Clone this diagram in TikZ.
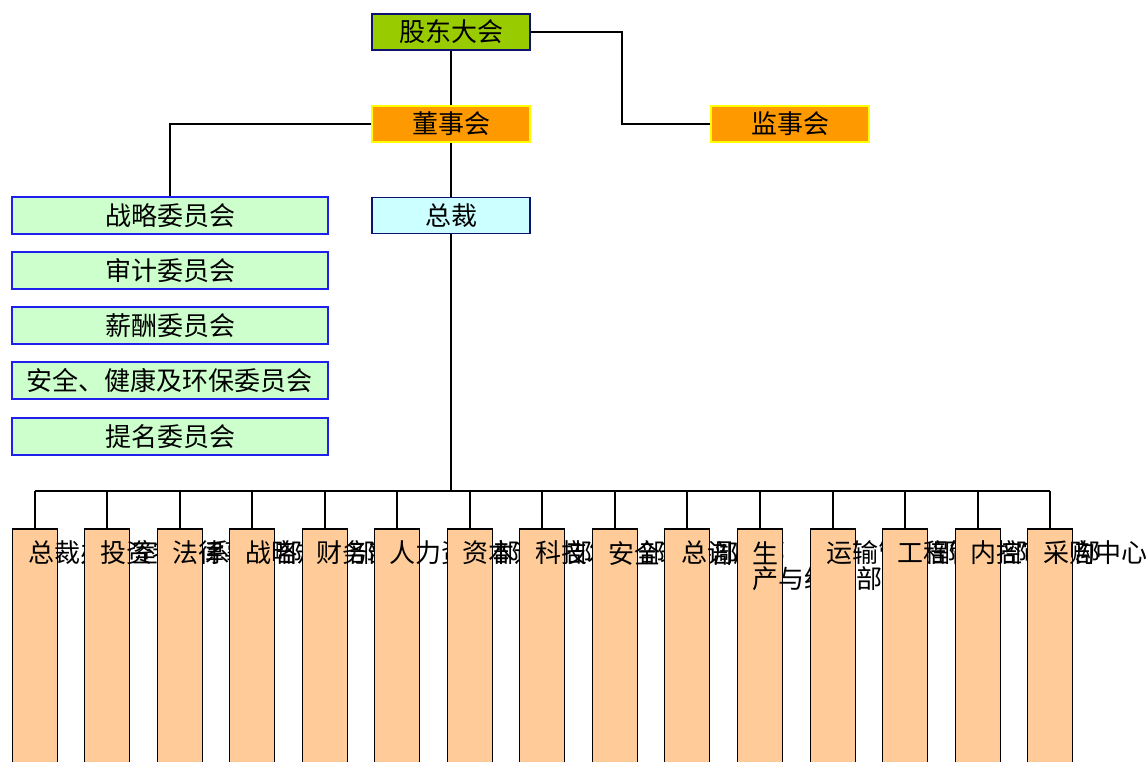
\documentclass[tikz,border=0pt]{standalone}
\usepackage{fontspec}
\setmainfont{Noto Sans CJK SC}
\newcommand\bigcjk{\fontsize{26}{31}\selectfont}
\definecolor{gdgreen}{HTML}{99CC00}
\definecolor{gdnavy}{HTML}{101070}
\definecolor{dsorange}{HTML}{FF9900}
\definecolor{dsyellow}{HTML}{FFFF00}
\definecolor{zccyan}{HTML}{CCFFFF}
\definecolor{cmgreen}{HTML}{CCFFCC}
\definecolor{cmblue}{HTML}{2020EE}
\definecolor{bdpeach}{HTML}{FFCC99}
\begin{document}
\begin{tikzpicture}[x=1pt,y=-1pt,
  conn/.style={draw=black,line width=1.8pt},
  topbox/.style={rectangle,minimum width=158pt,minimum height=36pt,inner sep=0pt,line width=1.8pt,font=\bigcjk},
  gdbox/.style={topbox,fill=gdgreen,draw=gdnavy},
  dsbox/.style={topbox,fill=dsorange,draw=dsyellow},
  zcbox/.style={topbox,fill=zccyan,draw=gdnavy},
  cmbox/.style={rectangle,minimum width=316pt,minimum height=37pt,inner sep=0pt,line width=1.8pt,fill=cmgreen,draw=cmblue,font=\bigcjk},
  deptbox/.style={rectangle,anchor=north,minimum width=45pt,minimum height=280pt,inner sep=0pt,line width=1.8pt,fill=bdpeach,draw=black},
  depttext/.style={anchor=west,inner sep=0pt,font=\bigcjk}]
\clip (0,0) rectangle (1146,762);
\fill[white] (0,0) rectangle (1146,762);

% top level
\node[gdbox] (gd) at (451,32) {股东大会};
\node[dsbox] (ds) at (451,124) {董事会};
\node[dsbox] (js) at (790,124) {监事会};
\node[zcbox] (zc) at (451,215.5) {总裁};

% committees
\node[cmbox] (c1) at (170,215.5) {战略委员会};
\node[cmbox] (c2) at (170,270.5) {审计委员会};
\node[cmbox] (c3) at (170,325.5) {薪酬委员会};
\node[cmbox] (c4) at (170,380.5) {安全、健康及环保委员会};
\node[cmbox] (c5) at (170,436.5) {提名委员会};

% connectors
\draw[conn] (gd.south) -- (ds.north);
\draw[conn] (gd.east) -- ++(91,0) |- (js.west);
\draw[conn] (ds.west) -| (c1.north);
\draw[conn] (ds.south) -- (zc.north);

\coordinate (bus) at (448,491);
\coordinate (busl) at (35,491);
\coordinate (busr) at (1050,491);
\draw[conn] (zc.south) -- (zc.south |- bus);
\draw[conn,line width=2pt] (busl) -- (busr);

% departments: each box then its text, so the next box covers it
\node[deptbox] (b1) at (35,528) {};
\node[depttext] (t1) at (28,553) {总裁办公室};
\node[deptbox] (b2) at (107,528) {};
\node[depttext] (t2) at (100,553) {投资者关系部};
\node[deptbox] (b3) at (180,528) {};
\node[depttext] (t3) at (172,553) {法律事务部};
\node[deptbox] (b4) at (252,528) {};
\node[depttext] (t4) at (245,553) {战略规划部};
\node[deptbox] (b5) at (325,528) {};
\node[depttext] (t5) at (316,553) {财务部};
\node[deptbox] (b6) at (397,528) {};
\node[depttext] (t6) at (389,553) {人力资源部};
\node[deptbox] (b7) at (470,528) {};
\node[depttext] (t7) at (462,553) {资本运营部};
\node[deptbox] (b8) at (542,528) {};
\node[depttext] (t8) at (535,553) {科技发展部};
\node[deptbox] (b9) at (615,528) {};
\node[depttext] (t9) at (608,553) {安全环保部};
\node[deptbox] (b10) at (687,528) {};
\node[depttext] (t10) at (681,553) {总调度部};
\node[deptbox] (b11) at (760,528) {};
\node[depttext] (t11a) at (752,553) {生};
\node[depttext] (t11b) at (752,579) {产与经营部};
\node[deptbox] (b12) at (833,528) {};
\node[depttext] (t12) at (826,553) {运输管理部};
\node[deptbox] (b13) at (905,528) {};
\node[depttext] (t13) at (897,553) {工程管理部};
\node[deptbox] (b14) at (978,528) {};
\node[depttext] (t14) at (970,553) {内控审计部};
\node[deptbox] (b15) at (1050,528) {};
\node[depttext] (t15) at (1043,553) {采购中心};

\foreach \i in {1,...,15} {
  \draw[conn] (b\i.north |- bus) -- (b\i.north);
}
\end{tikzpicture}
\end{document}
